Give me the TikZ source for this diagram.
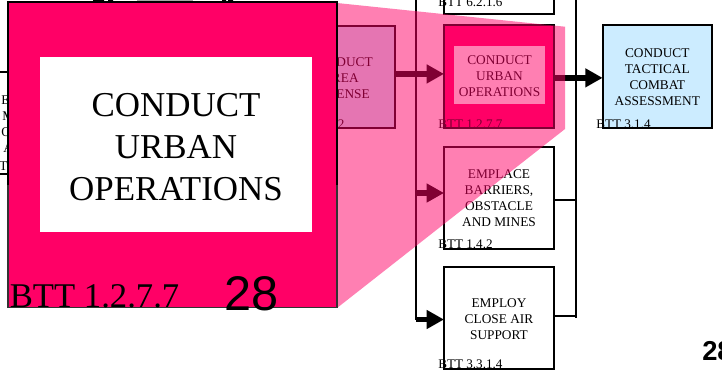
\documentclass[tikz,border=0pt]{standalone}
\usepackage{fontspec}
\setmainfont{Liberation Serif}
\newfontfamily\helv{Liberation Sans}
\usetikzlibrary{arrows.meta}
\definecolor{hot}{RGB}{255,0,102}
\definecolor{sky}{RGB}{204,236,255}
\newcommand{\nudgesmall}{\rule{0pt}{8.3pt}}
\newcommand{\nudgebig}{\rule{0pt}{20.7pt}}
\tikzset{
 x=0.75pt,y=-0.75pt,
 taskbox/.style={draw=black,line width=1.5pt,fill=white,minimum width=82.5pt,minimum height=77pt,inner sep=0pt,outer sep=0pt,align=center,font=\fontsize{10pt}{12pt}\selectfont},
 tag/.style={anchor=base west,inner sep=0pt,font=\fontsize{9.85pt}{12pt}\selectfont},
 stub/.style={anchor=base west,inner sep=0pt,font=\fontsize{10pt}{12pt}\selectfont},
 wire/.style={draw=black,line width=1.2pt},
 flow/.style={draw=black,line width=4.4pt,-{Triangle[length=13pt,width=13.5pt]}},
 feed/.style={draw=black,line width=1.3pt}
}
\begin{document}
\begin{tikzpicture}
\useasboundingbox (0,0) rectangle (722,375);
% clipped remains above the enlargement
\fill[black] (93,0) rectangle (104,1.2) (108,0) rectangle (113,1.2) (222,0) rectangle (226,1.2) (228,0) rectangle (233,1.2);
\fill[black!35] (137,0) rectangle (193,0.8);
% box cut by the enlargement
\node[taskbox,minimum width=90pt,minimum height=76.5pt] (leftbox) at (40,123) {};
\node[stub] (l1) at (1,104) {E};
\node[stub] (l2) at (2,120) {M};
\node[stub] (l3) at (1,136) {O};
\node[stub] (l4) at (3,152) {A};
\node[stub] (l5) at (-1,170) {T};
% rails
\coordinate (lt) at (416,-5);
\coordinate (lb) at (416,193);
\coordinate (lc) at (416,319.5);
\coordinate (rt) at (576,-5);
\coordinate (rb) at (576,200);
\coordinate (rc) at (576,316);
\coordinate (re) at (576,318);
\draw[wire] (lt) -- (lc);
\draw[wire] (rt) -- (re);
% boxes
\node[taskbox,fill=sky,minimum width=82pt,minimum height=76.5pt] (def) at (340.5,77) {\nudgesmall CONDUCT\\AREA\\DEFENSE};
\node[tag] (deft) at (280,128) {BTT 1.2.7.2};
\node[taskbox,minimum height=40pt] (top) at (499,-13) {};
\node[tag] (topt) at (438,6) {BTT 6.2.1.6};
\node[taskbox,fill=hot] (urban) at (499,76.4) {};
\node[fill=white,minimum width=68.25pt,minimum height=43.5pt,inner sep=0pt,align=center,font=\fontsize{10pt}{12pt}\selectfont] (urbant) at (499.5,75) {\nudgesmall CONDUCT\\URBAN\\OPERATIONS};
\node[tag] (urbantag) at (438,128) {BTT 1.2.7.7};
\node[taskbox,fill=sky,minimum width=82pt] (tca) at (657.3,76.4) {\nudgesmall CONDUCT\\TACTICAL\\COMBAT\\ASSESSMENT};
\node[tag] (tcat) at (596,128) {BTT 3.1.4};
\node[taskbox,minimum height=76.5pt] (bar) at (499,197.5) {\nudgesmall EMPLACE\\BARRIERS,\\OBSTACLE\\AND MINES};
\node[tag] (bart) at (438,248) {BTT 1.4.2};
\node[taskbox,minimum height=76.5pt] (cas) at (499,318.2) {\nudgesmall EMPLOY\\CLOSE AIR\\SUPPORT};
\node[tag] (cast) at (438,368.5) {BTT 3.3.1.4};
% connectors
\draw[flow] ([yshift=2.25pt]def.east) -- ([yshift=1.87pt]urban.west);
\draw[flow] ([yshift=-1.1pt]urban.east) -- ([yshift=-1.1pt]tca.west);
\draw[flow] (lb) -- (lb -| bar.west);
\draw[flow] (lc) -- (lc -| cas.west);
\draw[feed] (rb -| bar.east) -- (rb);
\draw[feed] (rc -| cas.east) -- (rc);
% translucent zoom wedge
\fill[hot,opacity=.5] (337,3) -- (565,26.7) -- (565,129) -- (337,308) -- cycle;
% enlargement
\node[draw=black!80,line width=0.8pt,fill=hot,minimum width=246.75pt,minimum height=229.5pt,inner sep=0pt,outer sep=0pt] (big) at (172.5,154.8) {};
\coordinate (bl) at (big.west |- 0,185);
\coordinate (br) at (big.east |- 0,185);
\draw[line width=1.5pt,black] (bl) -- (big.north west) -- (big.north east) -- (br);
\node[fill=white,minimum width=204pt,minimum height=131.5pt,inner sep=0pt,align=center,font=\fontsize{26.2pt}{31.5pt}\selectfont] (bigt) at (176,144.5) {\nudgebig CONDUCT\\URBAN\\OPERATIONS};
\node[anchor=base west,inner sep=0pt,font=\fontsize{26pt}{28pt}\selectfont] (bigtag) at (9.5,307) {BTT 1.2.7.7};
\node[anchor=center,inner sep=0pt,font=\helv\fontsize{36.5pt}{38pt}\selectfont] (bign) at (252,294) {28};
\node[anchor=west,inner sep=0pt,font=\helv\bfseries\fontsize{20.5pt}{22pt}\selectfont] (pg) at (702,351) {28};
\end{tikzpicture}
\end{document}
